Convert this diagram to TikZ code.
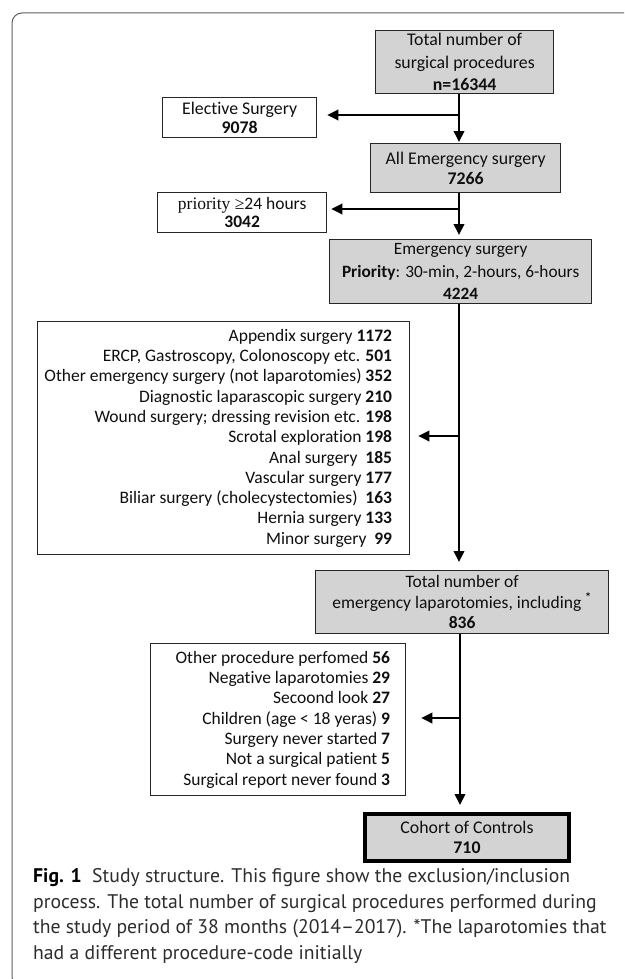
\documentclass[tikz,border=0pt]{standalone}
\usepackage{fontspec}
\setmainfont{Carlito}[Ligatures=NoCommon]
\newfontfamily\capfont{PT Sans}
\newfontfamily\serifa{Liberation Serif}
\usetikzlibrary{arrows.meta,calc}
\definecolor{boxgray}{RGB}{211,211,211}
\definecolor{txt}{RGB}{15,15,15}
\definecolor{framec}{RGB}{95,95,95}
\definecolor{captxt}{RGB}{45,45,45}
\begin{document}
\begin{tikzpicture}[x=1pt,y=-1pt,
  base/.style={draw=black!85, line width=1.3pt, inner sep=0pt, anchor=north west,
    align=center, text=txt, font=\fontsize{17.8}{20}\selectfont},
  graybox/.style={base, fill=boxgray},
  whitebox/.style={base, fill=white},
  listtext/.style={anchor=east, align=right, inner sep=0pt, text=txt,
    font=\fontsize{17.5}{20.3}\selectfont},
  arr/.style={line width=2pt, -{Triangle[length=11pt,width=10.5pt]}},
]
\useasboundingbox (0,0) rectangle (624,979);
\fill[white] (0,0) rectangle (624,979);
\begin{scope}
  \clip (0,0) rectangle (624,979);
  \draw[framec, line width=1pt, rounded corners=10pt] (12,13) rectangle (660,987);
\end{scope}

\node[graybox, minimum width=178pt, minimum height=63pt,
  font=\fontsize{17.8}{22.5}\selectfont] (b1) at (375,30)
  {Total number of\\surgical procedures\\\textbf{n=16344}};
\node[whitebox, minimum width=154pt, minimum height=40pt,
  font=\fontsize{17.8}{19}\selectfont] (el) at (162,97)
  {Elective Surgery\\\textbf{9078}};
\node[graybox, minimum width=190pt, minimum height=49pt] (b2) at (370,143)
  {All Emergency surgery\\\textbf{7266}};
\node[whitebox, minimum width=169pt, minimum height=40pt,
  font=\fontsize{17.5}{18.5}\selectfont] (pr) at (157,192)
  {{\serifa\fontsize{17.5}{18.5}\selectfont priority \char"2265}24 hours\\\textbf{3042}};
\node[graybox, minimum width=262pt, minimum height=64pt,
  font=\fontsize{17.3}{22.5}\selectfont] (b3) at (329,239)
  {Emergency surgery\\\textbf{Priority}: 30-min, 2-hours, 6-hours\\\textbf{4224}};
\node[whitebox, minimum width=372pt, minimum height=233pt] (x1) at (37,321) {};
\node[listtext] (x1t) at ($(x1.east)+(-18pt,0pt)$)
  {Appendix surgery \textbf{1172}\\
   ERCP, Gastroscopy, Colonoscopy etc. \textbf{501}\\
   Other emergency surgery (not laparotomies) \textbf{352}\\
   Diagnostic laparascopic surgery \textbf{210}\\
   Wound surgery; dressing revision etc. \textbf{198}\\
   Scrotal exploration \textbf{198}\\
   Anal surgery \ \textbf{185}\\
   Vascular surgery \textbf{177}\\
   Biliar surgery (cholecystectomies) \ \textbf{163}\\
   Hernia surgery \textbf{133}\\
   Minor surgery \ \textbf{99}};
\node[graybox, minimum width=293pt, minimum height=63pt,
  font=\fontsize{17.5}{20.5}\selectfont] (b4) at (315,570)
  {Total number of\\emergency laparotomies, including \textsuperscript{\textbf{*}}\\\textbf{836}};
\node[whitebox, minimum width=255pt, minimum height=152pt] (x2) at (150,643) {};
\node[listtext] (x2t) at ($(x2.east)+(-16pt,0pt)$)
  {Other procedure perfomed \textbf{56}\\
   Negative laparotomies \textbf{29}\\
   Secoond look \textbf{27}\\
   Children (age \textless{} 18 yeras) \textbf{9}\\
   Surgery never started \textbf{7}\\
   Not a surgical patient \textbf{5}\\
   Surgical report never found \textbf{3}};
\node[graybox, draw=black, line width=4pt, minimum width=204pt, minimum height=47pt,
  font=\fontsize{17.8}{20}\selectfont] (co) at (363,812)
  {Cohort of Controls\\\textbf{710}};

\coordinate (t1) at (459,0);
\coordinate (t4) at (460,0);
\coordinate (j1) at (459,115);
\coordinate (j2) at (459,209);
\coordinate (j3) at (459,436);
\coordinate (j4) at (460,718);

\draw[arr, shorten >=1pt] (b1.south -| t1) -- (b2.north -| t1);
\draw[arr, shorten >=10pt] (j1) -- (j1 -| el.east);
\draw[arr, shorten >=4pt] (b2.south -| t1) -- (b3.north -| t1);
\draw[arr, shorten >=4pt] (j2) -- (j2 -| pr.east);
\draw[arr, shorten >=8pt] (b3.south -| t1) -- (b4.north -| t1);
\draw[arr, shorten >=8pt] (j3) -- (j3 -| x1.east);
\draw[arr, shorten >=7pt] (b4.south -| t4) -- (co.north -| t4);
\draw[arr, shorten >=15pt] (j4) -- (j4 -| x2.east);

\node[anchor=north west, align=left, inner sep=0pt, text=captxt,
  font=\capfont\fontsize{19.7}{25.8}\selectfont] (cap) at (33,868)
  {{\color{black}\textbf{Fig. 1}}\ \ Study structure. This figure show the exclusion/inclusion\\
   process. The total number of surgical procedures performed during\\
   the study period of 38 months (2014–2017). *The laparotomies that\\
   had a different procedure-code initially};
\end{tikzpicture}
\end{document}
